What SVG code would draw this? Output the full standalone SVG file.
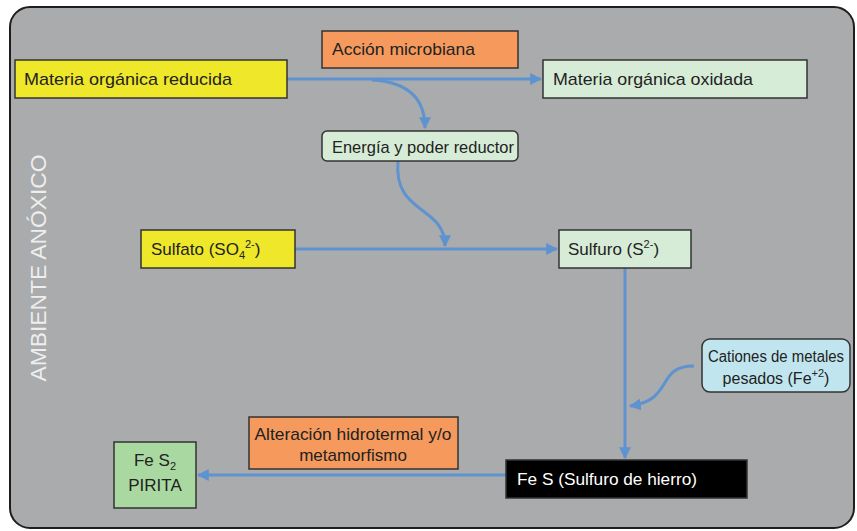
<svg xmlns="http://www.w3.org/2000/svg" width="857" height="531" viewBox="0 0 857 531">
<defs>
<marker id="ah" viewBox="0 0 10 10" refX="9" refY="5" markerWidth="4" markerHeight="4" orient="auto" markerUnits="strokeWidth">
<path d="M0,0 L10,5 L0,10 z" fill="#5f93d0"/>
</marker>
<style>
.n{stroke:#333;stroke-width:1.5}
.t{font-family:"Liberation Sans",Arial,sans-serif;font-size:17px;fill:#222}
.c{fill:none;stroke:#5f93d0;stroke-width:3;marker-end:url(#ah)}
</style>
</defs>
<rect width="857" height="531" fill="#ffffff"/>
<rect x="10" y="7" width="844" height="521" rx="20" fill="#a9abad" stroke="#1e1e1e" stroke-width="2"/>
<text transform="translate(46,268) rotate(-90)" text-anchor="middle" font-family="'Liberation Sans',Arial,sans-serif" font-size="22" textLength="227" lengthAdjust="spacingAndGlyphs" fill="#eeeeee">AMBIENTE ANÓXICO</text>
<g id="connectors">
<path class="c" d="M287,79 L541,79"/>
<path class="c" d="M372,80 C410,82 425,100 425,128"/>
<path class="c" d="M398,161 C393,215 445,205 445,246"/>
<path class="c" d="M295,249 L557,249"/>
<path class="c" d="M625,268 L625,458"/>
<path class="c" d="M694,366 C655,366 675,400 630,406"/>
<path class="c" d="M506,475 L198,475"/>
</g>
<g id="n1"><rect class="n" x="15" y="60" width="272" height="38" fill="#eee72a"/><text class="t" x="24" y="85" textLength="208" lengthAdjust="spacingAndGlyphs">Materia orgánica reducida</text></g>
<g id="n2"><rect class="n" x="322" y="31" width="196" height="37" fill="#f59a5c"/><text class="t" x="332" y="55" textLength="143" lengthAdjust="spacingAndGlyphs">Acción microbiana</text></g>
<g id="n3"><rect class="n" x="543" y="60" width="264" height="38" fill="#d6ecd6"/><text class="t" x="553" y="85" textLength="200" lengthAdjust="spacingAndGlyphs">Materia orgánica oxidada</text></g>
<g id="n4"><rect class="n" x="322" y="131" width="196" height="30" rx="5" fill="#d6ecd6"/><text class="t" x="332" y="153" textLength="182" lengthAdjust="spacingAndGlyphs">Energía y poder reductor</text></g>
<g id="n5"><rect class="n" x="141" y="230" width="154" height="38" fill="#eee72a"/><text class="t" x="151" y="255">Sulfato (SO<tspan font-size="11" dy="4">4</tspan><tspan font-size="11" dy="-11">2-</tspan><tspan dy="7">)</tspan></text></g>
<g id="n6"><rect class="n" x="559" y="230" width="132" height="38" fill="#d6ecd6"/><text class="t" x="568" y="255">Sulfuro (S<tspan font-size="11" dy="-7">2-</tspan><tspan dy="7">)</tspan></text></g>
<g id="n7"><rect class="n" x="702" y="339" width="148" height="53" rx="8" fill="#c0e5ef"/><text class="t" x="776" y="362" text-anchor="middle" font-size="16" style="font-size:16px" textLength="136" lengthAdjust="spacingAndGlyphs">Cationes de metales</text><text class="t" x="776" y="384" text-anchor="middle" style="font-size:16px">pesados (Fe<tspan font-size="11" dy="-7">+2</tspan><tspan dy="7">)</tspan></text></g>
<g id="n8"><rect class="n" x="506" y="460" width="241" height="38" fill="#000"/><text class="t" x="517" y="485" style="fill:#fff" textLength="180" lengthAdjust="spacingAndGlyphs">Fe S (Sulfuro de hierro)</text></g>
<g id="n9"><rect class="n" x="249" y="417" width="209" height="52" fill="#f59a5c"/><text class="t" x="353" y="440" text-anchor="middle" textLength="197" lengthAdjust="spacingAndGlyphs">Alteración hidrotermal y/o</text><text class="t" x="353" y="461" text-anchor="middle">metamorfismo</text></g>
<g id="n10"><rect class="n" x="114" y="442" width="82" height="66" fill="#a9d8a0"/><text class="t" x="155" y="466" text-anchor="middle">Fe S<tspan font-size="11" dy="4">2</tspan></text><text class="t" x="155" y="491" text-anchor="middle">PIRITA</text></g>
</svg>
